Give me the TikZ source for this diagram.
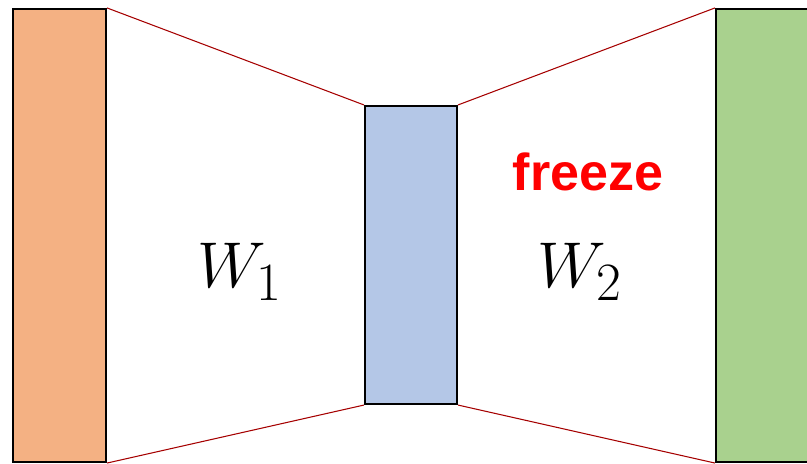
\documentclass[tikz,border=0pt]{standalone}
\usepackage{fontspec}
\newfontfamily\labelfont{Liberation Sans}
\usepackage{tikz}
\usetikzlibrary{positioning,calc}
\definecolor{inorange}{HTML}{F4B183}
\definecolor{hidblue}{HTML}{B4C7E7}
\definecolor{outgreen}{HTML}{A9D18E}
\definecolor{linkred}{HTML}{A50000}
\definecolor{frzred}{HTML}{FF0000}
\tikzset{
  % schichten
  layer/.style={rectangle,draw=black,line width=1.5pt,inner sep=0pt},
  link/.style={draw=linkred,line width=0.75pt},
  wlab/.style={font=\Huge,scale=1.85,inner sep=0pt},
  frz/.style={font=\labelfont\bfseries\fontsize{37}{40}\selectfont,text=frzred,inner sep=0pt},
}
\begin{document}
\begin{tikzpicture}[x=0.025cm,y=-0.025cm]
\useasboundingbox (0,0) rectangle (807,464);
  \node[layer,fill=inorange,minimum width=93*0.025cm,minimum height=453*0.025cm] (in) at (59.5,235.5) {};
  \node[layer,fill=hidblue,minimum width=92*0.025cm,minimum height=298*0.025cm] (hid) at (411,255) {};
  \node[layer,fill=outgreen,minimum width=114*0.025cm,minimum height=453*0.025cm] (out) at (773,235.5) {};
  \draw[link] (in.north east) -- (hid.north west);
  \draw[link] (in.south east) -- (hid.south west);
  \draw[link] (hid.north east) -- (out.north west);
  \draw[link] (hid.south east) -- (out.south west);
  \node[wlab] (w1) at (240,272) {$W_1$};
  \node[wlab] (w2) at (580,272) {$W_2$};
  \node[frz] (frz) at (588,172) {freeze};
\end{tikzpicture}
\end{document}
